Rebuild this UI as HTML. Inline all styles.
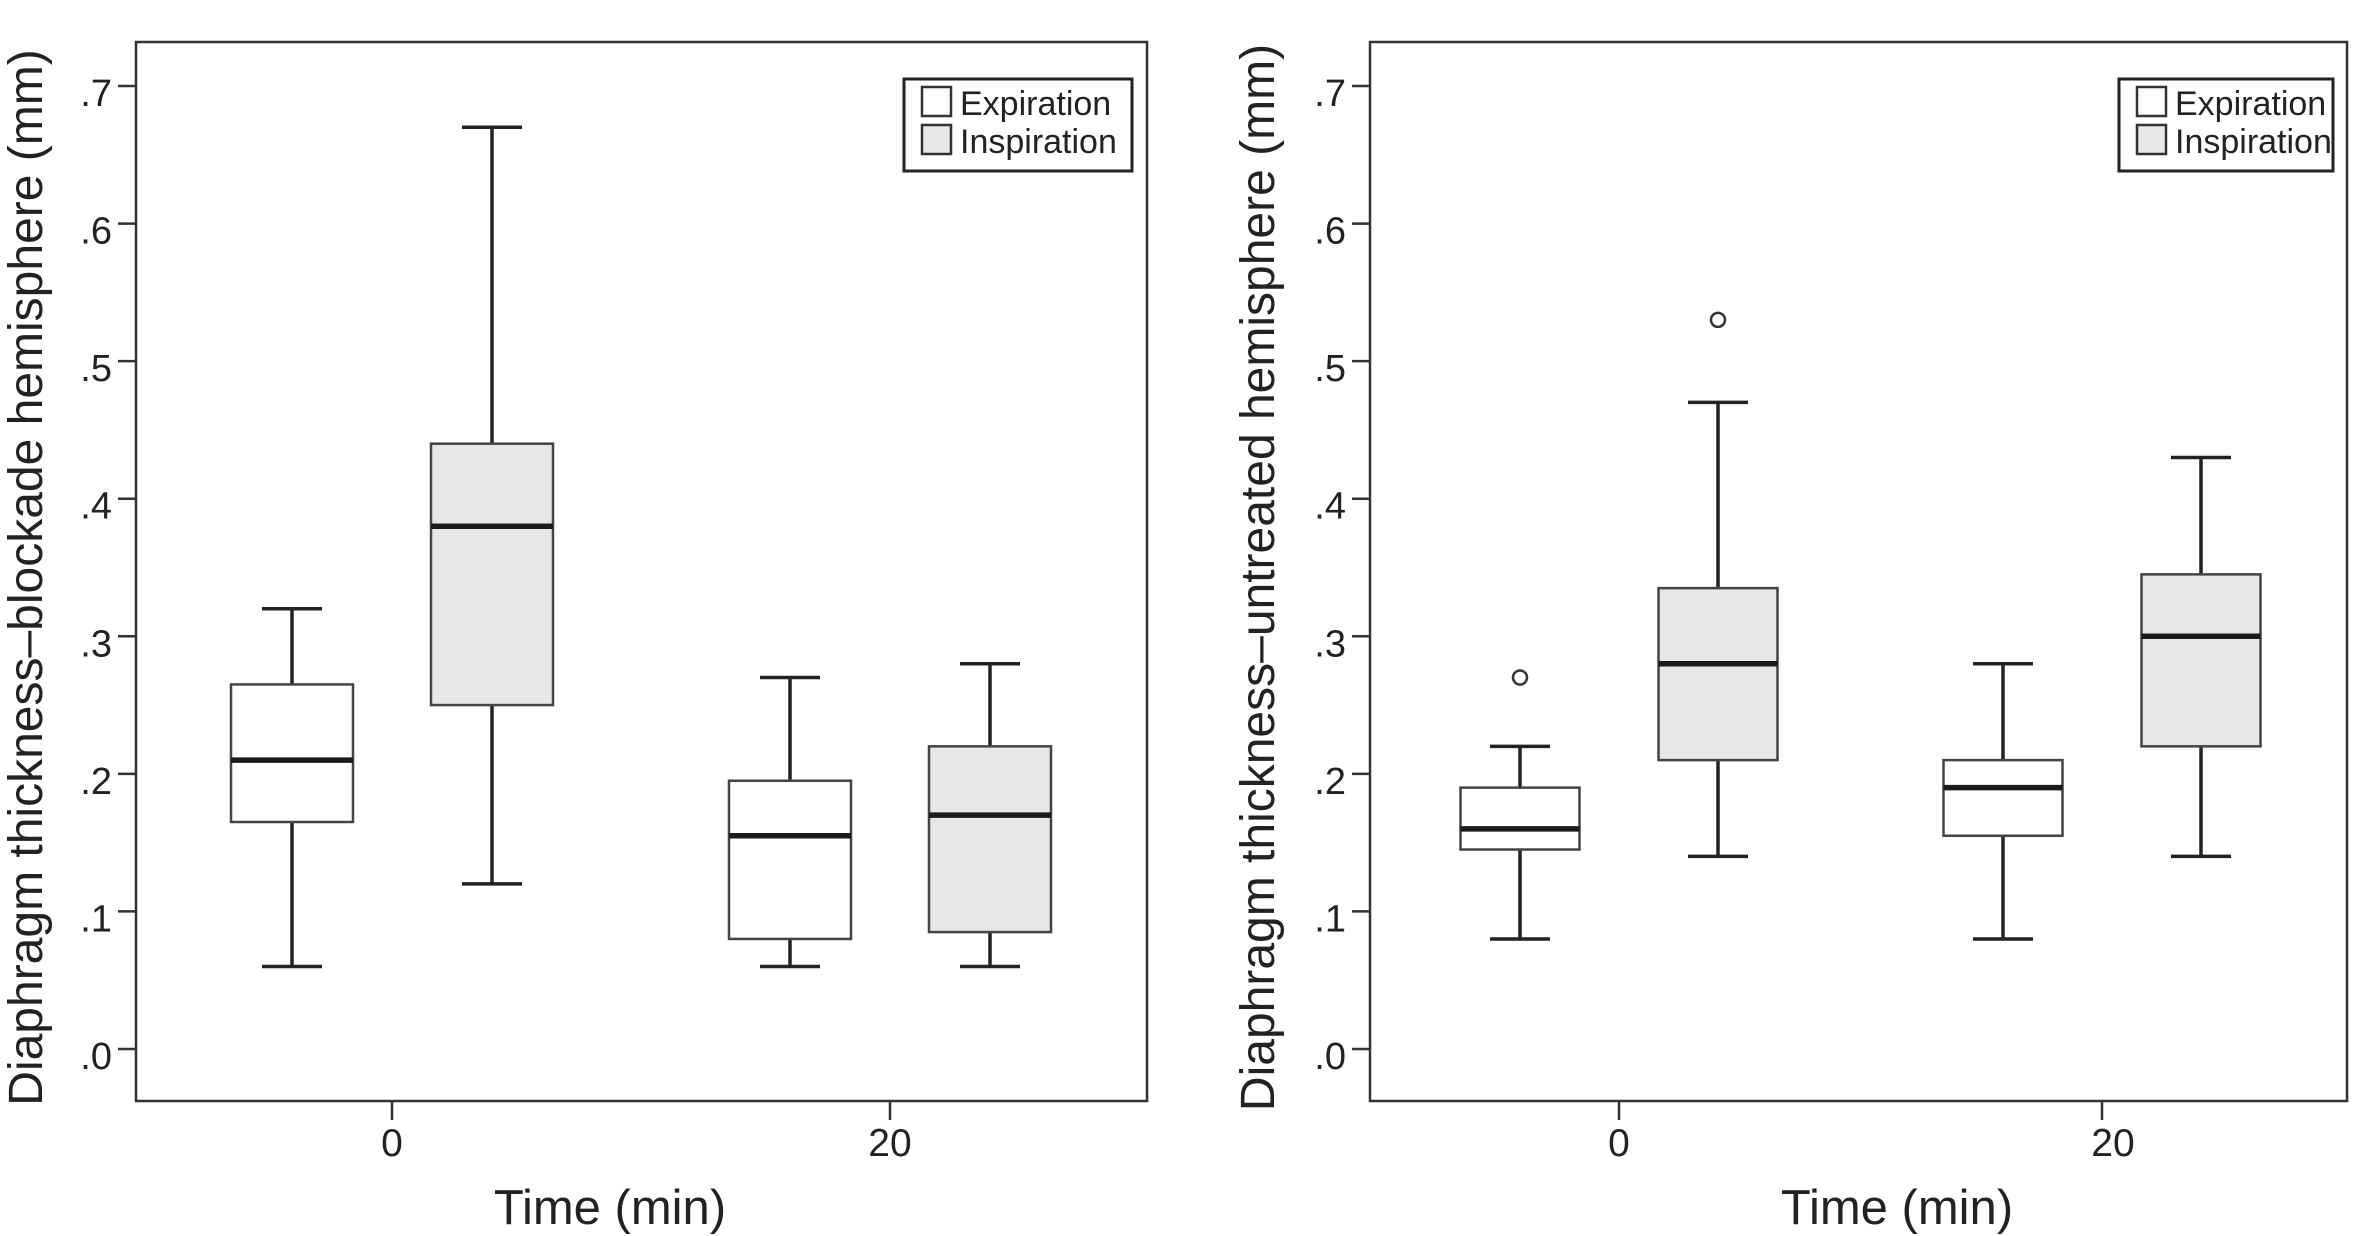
<!DOCTYPE html>
<html><head><meta charset="utf-8"><style>
html,body{margin:0;padding:0;background:#fff;}
svg{display:block;font-family:"Liberation Sans",Arial,sans-serif;}
</style></head><body>
<svg id="chart" width="2356" height="1236" viewBox="0 0 2356 1236" xmlns="http://www.w3.org/2000/svg"></svg>
<script>
// Data
const categories = ["0", "20"];
const yTicks = [0, 0.1, 0.2, 0.3, 0.4, 0.5, 0.6, 0.7];
const yTickLabels = [".0", ".1", ".2", ".3", ".4", ".5", ".6", ".7"];
// [min, q1, median, q3, max] per category
const leftExpiration = [[0.06, 0.165, 0.21, 0.265, 0.32], [0.06, 0.08, 0.155, 0.195, 0.27]];
const leftInspiration = [[0.12, 0.25, 0.38, 0.44, 0.67], [0.06, 0.085, 0.17, 0.22, 0.28]];
const leftExpOutliers = [[], []];
const leftInspOutliers = [[], []];
const rightExpiration = [[0.08, 0.145, 0.16, 0.19, 0.22], [0.08, 0.155, 0.19, 0.21, 0.28]];
const rightInspiration = [[0.14, 0.21, 0.28, 0.335, 0.47], [0.14, 0.22, 0.30, 0.345, 0.43]];
const rightExpOutliers = [[0.27], []];
const rightInspOutliers = [[0.53], []];

const NS = "http://www.w3.org/2000/svg";
const svg = document.getElementById("chart");
function mk(tag, attrs, parent, text) {
  const e = document.createElementNS(NS, tag);
  for (const k in attrs) e.setAttribute(k, attrs[k]);
  if (text !== undefined) e.textContent = text;
  (parent || svg).appendChild(e);
  return e;
}

function panel(cfg) {
  const g = mk("g", {});
  
  
  const y = v => cfg.y0 + (cfg.y7 - cfg.y0) * v / 0.7;
  const x = i => cfg.cx[i];
  const frame = mk("rect", {x: cfg.fx0, y: 42, width: cfg.fx1 - cfg.fx0, height: 1101 - 42, fill: "none", stroke: "#333", "stroke-width": 2.5}, g);
  
  
  yTicks.forEach((t, i) => {
    const tk = mk("line", {x1: cfg.fx0 - 18, x2: cfg.fx0, y1: y(t), y2: y(t), stroke: "#333", "stroke-width": 2.5}, g);
    
    
    const lb = mk("text", {x: cfg.fx0 - 24, y: y(t) + 20, "text-anchor": "end", "font-size": 38, fill: "#222"}, g, yTickLabels[i]);
    
    
  });
  categories.forEach((c, i) => {
    const tk = mk("line", {x1: x(i), x2: x(i), y1: 1101, y2: 1120, stroke: "#333", "stroke-width": 2.5}, g);
    
    
    const lb = mk("text", {x: x(i) + cfg.lblOff[i], y: 1156, "text-anchor": "middle", "font-size": 39, fill: "#222"}, g, c);
    
    
  });
  const xt = mk("text", {x: cfg.xtx, y: 1224, "text-anchor": "middle", "font-size": 49, fill: "#222"}, g, "Time (min)");
  
  
  const yt = mk("text", {x: 0, y: 0, "text-anchor": "middle", "font-size": 48, fill: "#222", transform: `translate(${cfg.ytx},${(42 + 1101) / 2 + 6}) rotate(-90)`}, g, cfg.ytitle);
  
  

  function box(d, cx, w, fill, nm, outs) {
    const bg = mk("g", {}, g);
    
    
    const cap = 30;
    mk("line", {x1: cx, x2: cx, y1: y(d[0]), y2: y(d[1]), stroke: "#222", "stroke-width": 3.5}, bg);
    mk("line", {x1: cx, x2: cx, y1: y(d[3]), y2: y(d[4]), stroke: "#222", "stroke-width": 3.5}, bg);
    mk("line", {x1: cx - cap, x2: cx + cap, y1: y(d[0]), y2: y(d[0]), stroke: "#222", "stroke-width": 3.5}, bg);
    mk("line", {x1: cx - cap, x2: cx + cap, y1: y(d[4]), y2: y(d[4]), stroke: "#222", "stroke-width": 3.5}, bg);
    mk("rect", {x: cx - w / 2, y: y(d[3]), width: w, height: y(d[1]) - y(d[3]), fill: fill, stroke: "#444", "stroke-width": 2.5}, bg);
    mk("line", {x1: cx - w / 2, x2: cx + w / 2, y1: y(d[2]), y2: y(d[2]), stroke: "#1a1a1a", "stroke-width": 5.5}, bg);
    outs.forEach(o => {
      const c = mk("circle", {cx: cx, cy: y(o), r: 7, fill: "#fff", stroke: "#333", "stroke-width": 2.5}, bg);
      
      
    });
  }
  categories.forEach((c, i) => {
    box(cfg.exp[i], x(i) - cfg.dE, cfg.wE, "#fff", "box-expiration-" + c, cfg.expO[i]);
    box(cfg.insp[i], x(i) + cfg.dI, cfg.wI, "#e6e7e8", "box-inspiration-" + c, cfg.inspO[i]);
  });

  const lg = mk("g", {}, g);
  
  
  mk("rect", {x: cfg.lx, y: 79, width: cfg.lw, height: 92, fill: "#fff", stroke: "#222", "stroke-width": 3}, lg);
  const e1 = mk("rect", {x: cfg.lx + 18, y: 87, width: 29, height: 29, fill: "#fff", stroke: "#333", "stroke-width": 2.5}, lg);
  
  
  const e2 = mk("rect", {x: cfg.lx + 18, y: 125, width: 29, height: 29, fill: "#e6e7e8", stroke: "#333", "stroke-width": 2.5}, lg);
  
  
  const t1 = mk("text", {x: cfg.lx + 56, y: 115, "font-size": 34, fill: "#222"}, lg, "Expiration");
  
  
  const t2 = mk("text", {x: cfg.lx + 56, y: 153, "font-size": 34, fill: "#222"}, lg, "Inspiration");
  
  
}

panel({name: "left-panel", fx0: 136, fx1: 1147, y0: 1049, y7: 86, cx: [392, 890], lblOff: [0, 0], dE: 100, dI: 100, wE: 122, wI: 122,
  exp: leftExpiration, insp: leftInspiration, expO: leftExpOutliers, inspO: leftInspOutliers,
  ytitle: "Diaphragm thickness–blockade hemisphere (mm)", ytx: 42, xtx: 610, lx: 904, lw: 228});
panel({name: "right-panel", fx0: 1370, fx1: 2347, y0: 1049, y7: 86, cx: [1619, 2102], lblOff: [0, 11], dE: 99, dI: 99, wE: 119, wI: 119,
  exp: rightExpiration, insp: rightInspiration, expO: rightExpOutliers, inspO: rightInspOutliers,
  ytitle: "Diaphragm thickness–untreated hemisphere (mm)", ytx: 1274, xtx: 1897, lx: 2119, lw: 214});
</script>
</body></html>
